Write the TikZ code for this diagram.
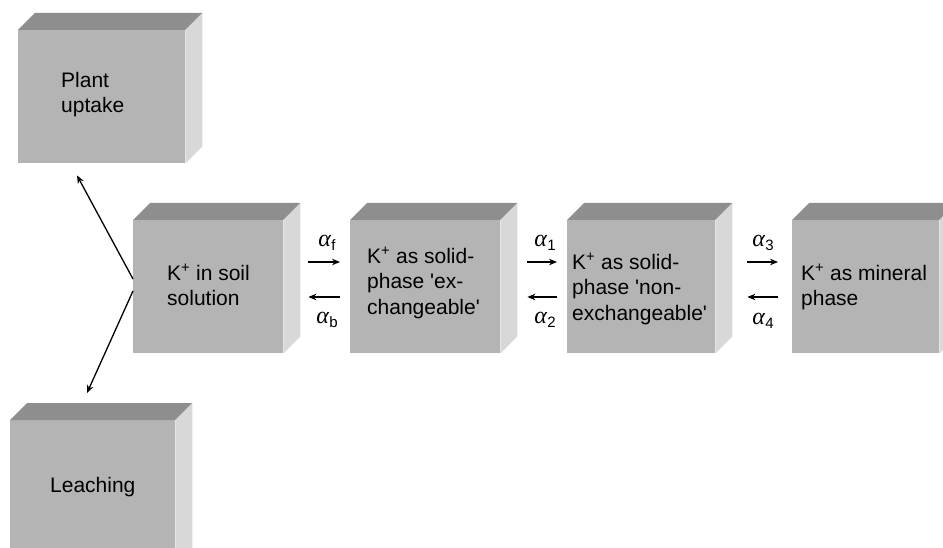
\documentclass[tikz,border=0pt]{standalone}
\usepackage{fontspec}
\setmainfont{Liberation Sans}
\newfontfamily\greekserif{Liberation Serif}
\usetikzlibrary{calc,arrows.meta}
\definecolor{frontc}{RGB}{180,180,180}
\definecolor{topc}{RGB}{142,142,142}
\definecolor{sidec}{RGB}{216,216,216}
\newcommand\cubefaces[1]{%
  \fill[topc] (#1.north west) -- ++(17,-17) -- ($(#1.north east)+(17,-17)$) -- (#1.north east) -- cycle;
  \fill[sidec] (#1.north east) -- ++(17,-17) -- ($(#1.south east)+(17,-17)$) -- (#1.south east) -- cycle;}
\newcommand\ralpha[1]{{\greekserif\itshape α}\kern0.5pt{\fontsize{15}{15}\selectfont\raisebox{-4pt}{#1}}}
\tikzset{
  front/.style={fill=frontc, inner sep=0pt, anchor=north west, minimum width=#1},
  front/.default=150pt,
  lbl/.style={inner sep=0pt, anchor=north west, align=left, font=\fontsize{21}{25.5}\selectfont},
  alab/.style={inner sep=0pt, font=\fontsize{24}{24}\selectfont},
  arr/.style={line width=1.3pt, -{Stealth[length=8pt,width=6.5pt]}},
}
\begin{document}
\begin{tikzpicture}[x=1pt,y=-1pt]
\useasboundingbox (0,0) rectangle (943,548);
\clip (0,0) rectangle (943,548);
% boxes
\node[front=167pt, minimum height=133pt] (plant) at (18,30) {};
\node[front=165pt, minimum height=150pt] (leach) at (10,420) {};
\node[front, minimum height=133pt] (soil) at (133,220) {};
\node[front, minimum height=133pt] (exch) at (350,220) {};
\node[front=148pt, minimum height=133pt] (nonex) at (567,220) {};
\node[front=147pt, minimum height=133pt] (mineral) at (792,220) {};
\cubefaces{plant}
\cubefaces{leach}
\cubefaces{soil}
\cubefaces{exch}
\cubefaces{nonex}
\cubefaces{mineral}
% texts
\node[lbl] (tplant) at (61,72) {Plant\\uptake};
\node[lbl] (tleach) at (50,477) {Leaching};
\node[lbl] (tsoil) at (167,264) {K\textsuperscript{+} in soil\\solution};
\node[lbl] (texch) at (367,247) {K\textsuperscript{+} as solid-\\phase \textquotesingle ex-\\changeable\textquotesingle};
\node[lbl] (tnonex) at (572,253) {K\textsuperscript{+} as solid-\\phase \textquotesingle non-\\exchangeable\textquotesingle};
\node[lbl] (tmin) at (801,264) {K\textsuperscript{+} as mineral\\phase};
% rate labels
\node[alab] (af) at (327,243) {\ralpha{f}};
\node[alab] (ab) at (327,320) {\ralpha{b}};
\node[alab] (a1) at (545,243) {\ralpha{1}};
\node[alab] (a2) at (545,320) {\ralpha{2}};
\node[alab] (a3) at (763,243) {\ralpha{3}};
\node[alab] (a4) at (763,321) {\ralpha{4}};
% horizontal arrows
\draw[arr] ($(soil.north east)+(25,42)$) -- ($(exch.north west)+(-10,42)$);
\draw[arr] ($(exch.north west)+(-10,77)$) -- ($(soil.north east)+(25,77)$);
\draw[arr] ($(exch.north east)+(27,42)$) -- ($(nonex.north west)+(-10,42)$);
\draw[arr] ($(nonex.north west)+(-10,77)$) -- ($(exch.north east)+(27,77)$);
\draw[arr] ($(nonex.north east)+(32,42)$) -- ($(mineral.north west)+(-14,42)$);
\draw[arr] ($(mineral.north west)+(-14,77)$) -- ($(nonex.north east)+(32,77)$);
% diagonal arrows
\coordinate (up) at ($(soil.north west)+(0,59)$);
\coordinate (dn) at ($(soil.north west)+(0,71)$);
\draw[arr] (up) -- ($(plant.south west)+(59,12)$);
\draw[arr] (dn) -- ($(leach.north west)+(77,-27)$);
\end{tikzpicture}
\end{document}
